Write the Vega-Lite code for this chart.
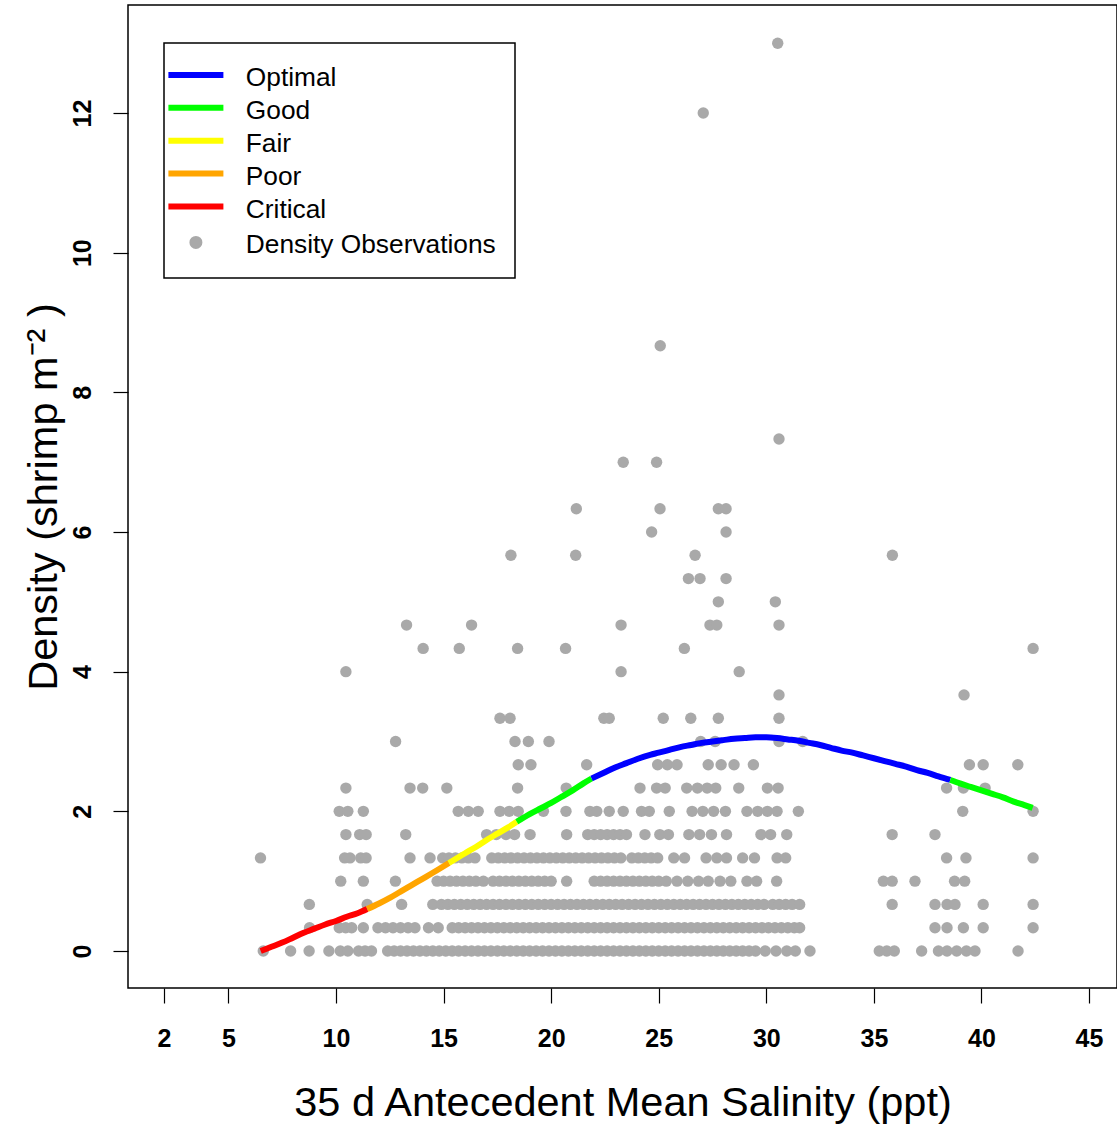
{
"$schema": "https://vega.github.io/schema/vega-lite/v6.json",
"width": 989,
"height": 983,
"autosize": {"type": "none"},
"padding": {"left": 128, "top": 5, "right": 0, "bottom": 136},
"config": {
  "font": "Liberation Sans",
  "view": {"stroke": "black", "strokeWidth": 1.5},
  "axis": {"grid": false, "domain": false, "tickColor": "black", "tickSize": 15, "tickWidth": 1.2, "labelColor": "black", "labelFont": "Liberation Sans", "labelFontWeight": "bold", "labelFontSize": 25, "labelPadding": 23, "titleColor": "black", "titleFont": "Liberation Sans", "titleFontWeight": "normal", "titleFontSize": 41.5, "labelFlush": false, "labelOverlap": false}
},
"layer": [
{
"data": {"values": [
{"x":6.62,"y":0},{"x":7.89,"y":0},{"x":8.75,"y":0},{"x":9.67,"y":0},{"x":10.2,"y":0},{"x":10.55,"y":0},{"x":11.05,"y":0},{"x":11.35,"y":0},{"x":11.65,"y":0},
{"x":12.4,"y":0},{"x":12.7,"y":0},{"x":13.0,"y":0},{"x":13.3,"y":0},{"x":13.6,"y":0},{"x":13.9,"y":0},{"x":14.2,"y":0},{"x":14.5,"y":0},{"x":14.8,"y":0},{"x":15.1,"y":0},{"x":15.4,"y":0},{"x":15.7,"y":0},{"x":16.0,"y":0},{"x":16.3,"y":0},{"x":16.6,"y":0},{"x":16.9,"y":0},{"x":17.2,"y":0},{"x":17.5,"y":0},{"x":17.8,"y":0},{"x":18.1,"y":0},{"x":18.4,"y":0},{"x":18.7,"y":0},{"x":19.0,"y":0},{"x":19.3,"y":0},{"x":19.6,"y":0},{"x":19.9,"y":0},{"x":20.2,"y":0},{"x":20.5,"y":0},{"x":20.8,"y":0},{"x":21.1,"y":0},{"x":21.4,"y":0},{"x":21.7,"y":0},{"x":22.0,"y":0},{"x":22.3,"y":0},{"x":22.6,"y":0},{"x":22.9,"y":0},{"x":23.2,"y":0},{"x":23.5,"y":0},{"x":23.8,"y":0},{"x":24.1,"y":0},{"x":24.4,"y":0},{"x":24.7,"y":0},{"x":25.0,"y":0},{"x":25.3,"y":0},{"x":25.6,"y":0},{"x":25.9,"y":0},{"x":26.2,"y":0},{"x":26.5,"y":0},{"x":26.8,"y":0},{"x":27.1,"y":0},{"x":27.4,"y":0},{"x":27.7,"y":0},{"x":28.0,"y":0},{"x":28.3,"y":0},{"x":28.6,"y":0},{"x":28.9,"y":0},{"x":29.2,"y":0},{"x":29.5,"y":0},
{"x":29.95,"y":0},{"x":30.45,"y":0},{"x":30.95,"y":0},{"x":31.35,"y":0},{"x":32.03,"y":0},{"x":35.25,"y":0},{"x":35.6,"y":0},{"x":35.95,"y":0},{"x":37.22,"y":0},{"x":38.0,"y":0},{"x":38.4,"y":0},{"x":38.85,"y":0},{"x":39.3,"y":0},{"x":39.7,"y":0},{"x":41.7,"y":0},
{"x":8.77,"y":0.333},{"x":10.15,"y":0.333},{"x":10.45,"y":0.333},{"x":10.73,"y":0.333},{"x":11.27,"y":0.333},{"x":11.95,"y":0.333},{"x":12.3,"y":0.333},{"x":12.65,"y":0.333},{"x":13.0,"y":0.333},{"x":13.35,"y":0.333},{"x":13.67,"y":0.333},{"x":14.3,"y":0.333},{"x":14.75,"y":0.333},
{"x":15.4,"y":0.333},{"x":15.7,"y":0.333},{"x":16.0,"y":0.333},{"x":16.3,"y":0.333},{"x":16.6,"y":0.333},{"x":16.9,"y":0.333},{"x":17.2,"y":0.333},{"x":17.5,"y":0.333},{"x":17.8,"y":0.333},{"x":18.1,"y":0.333},{"x":18.4,"y":0.333},{"x":18.7,"y":0.333},{"x":19.0,"y":0.333},{"x":19.3,"y":0.333},{"x":19.6,"y":0.333},{"x":19.9,"y":0.333},{"x":20.2,"y":0.333},{"x":20.5,"y":0.333},{"x":20.8,"y":0.333},{"x":21.1,"y":0.333},{"x":21.4,"y":0.333},{"x":21.7,"y":0.333},{"x":22.0,"y":0.333},{"x":22.3,"y":0.333},{"x":22.6,"y":0.333},{"x":22.9,"y":0.333},{"x":23.2,"y":0.333},{"x":23.5,"y":0.333},{"x":23.8,"y":0.333},{"x":24.1,"y":0.333},{"x":24.4,"y":0.333},{"x":24.7,"y":0.333},{"x":25.0,"y":0.333},{"x":25.3,"y":0.333},{"x":25.6,"y":0.333},{"x":25.9,"y":0.333},{"x":26.2,"y":0.333},{"x":26.5,"y":0.333},{"x":26.8,"y":0.333},{"x":27.1,"y":0.333},{"x":27.4,"y":0.333},{"x":27.7,"y":0.333},{"x":28.0,"y":0.333},{"x":28.3,"y":0.333},{"x":28.6,"y":0.333},{"x":28.9,"y":0.333},{"x":29.2,"y":0.333},{"x":29.5,"y":0.333},{"x":29.8,"y":0.333},{"x":30.1,"y":0.333},{"x":30.4,"y":0.333},{"x":30.7,"y":0.333},{"x":31.0,"y":0.333},{"x":31.3,"y":0.333},{"x":31.55,"y":0.333},
{"x":37.84,"y":0.333},{"x":38.4,"y":0.333},{"x":39.16,"y":0.333},{"x":40.08,"y":0.333},{"x":42.4,"y":0.333},
{"x":8.76,"y":0.667},{"x":11.45,"y":0.667},{"x":13.05,"y":0.667},{"x":14.5,"y":0.667},
{"x":14.9,"y":0.667},{"x":15.2,"y":0.667},{"x":15.5,"y":0.667},{"x":15.8,"y":0.667},{"x":16.1,"y":0.667},{"x":16.4,"y":0.667},{"x":16.7,"y":0.667},{"x":17.0,"y":0.667},{"x":17.3,"y":0.667},{"x":17.6,"y":0.667},{"x":17.9,"y":0.667},{"x":18.2,"y":0.667},{"x":18.5,"y":0.667},{"x":18.8,"y":0.667},{"x":19.1,"y":0.667},{"x":19.4,"y":0.667},{"x":19.7,"y":0.667},{"x":20.0,"y":0.667},{"x":20.3,"y":0.667},{"x":20.6,"y":0.667},{"x":20.9,"y":0.667},{"x":21.2,"y":0.667},{"x":21.5,"y":0.667},{"x":21.8,"y":0.667},{"x":22.1,"y":0.667},{"x":22.4,"y":0.667},{"x":22.7,"y":0.667},{"x":23.0,"y":0.667},{"x":23.3,"y":0.667},{"x":23.6,"y":0.667},{"x":23.9,"y":0.667},{"x":24.2,"y":0.667},{"x":24.5,"y":0.667},{"x":24.8,"y":0.667},{"x":25.1,"y":0.667},{"x":25.4,"y":0.667},{"x":25.7,"y":0.667},{"x":26.0,"y":0.667},{"x":26.3,"y":0.667},{"x":26.6,"y":0.667},{"x":26.9,"y":0.667},{"x":27.2,"y":0.667},{"x":27.5,"y":0.667},{"x":27.8,"y":0.667},{"x":28.1,"y":0.667},{"x":28.4,"y":0.667},{"x":28.7,"y":0.667},{"x":29.0,"y":0.667},{"x":29.3,"y":0.667},{"x":29.6,"y":0.667},{"x":29.9,"y":0.667},
{"x":30.3,"y":0.667},{"x":30.6,"y":0.667},{"x":30.9,"y":0.667},{"x":31.2,"y":0.667},{"x":31.55,"y":0.667},{"x":35.85,"y":0.667},{"x":37.84,"y":0.667},{"x":38.4,"y":0.667},{"x":38.77,"y":0.667},{"x":40.08,"y":0.667},{"x":42.4,"y":0.667},
{"x":10.22,"y":1},{"x":11.27,"y":1},{"x":12.76,"y":1},{"x":14.7,"y":1},{"x":15.0,"y":1},{"x":15.3,"y":1},{"x":15.6,"y":1},{"x":15.9,"y":1},{"x":16.2,"y":1},{"x":16.5,"y":1},{"x":16.85,"y":1},
{"x":17.3,"y":1},{"x":17.6,"y":1},{"x":17.9,"y":1},{"x":18.2,"y":1},{"x":18.5,"y":1},{"x":18.8,"y":1},{"x":19.1,"y":1},{"x":19.4,"y":1},{"x":19.7,"y":1},{"x":20.0,"y":1},{"x":20.72,"y":1},
{"x":22.0,"y":1},{"x":22.3,"y":1},{"x":22.6,"y":1},{"x":22.9,"y":1},{"x":23.2,"y":1},{"x":23.5,"y":1},{"x":23.8,"y":1},{"x":24.1,"y":1},{"x":24.4,"y":1},{"x":24.7,"y":1},{"x":25.0,"y":1},{"x":25.35,"y":1},
{"x":25.85,"y":1},{"x":26.35,"y":1},{"x":26.85,"y":1},{"x":27.3,"y":1},{"x":27.85,"y":1},{"x":28.35,"y":1},{"x":29.1,"y":1},{"x":29.55,"y":1},{"x":30.48,"y":1},{"x":35.44,"y":1},{"x":35.85,"y":1},{"x":36.91,"y":1},{"x":38.75,"y":1},{"x":39.22,"y":1},
{"x":6.49,"y":1.333},{"x":10.4,"y":1.333},{"x":10.65,"y":1.333},{"x":11.15,"y":1.333},{"x":11.4,"y":1.333},{"x":13.44,"y":1.333},{"x":14.37,"y":1.333},
{"x":14.96,"y":1.333},{"x":15.25,"y":1.333},{"x":15.55,"y":1.333},{"x":15.85,"y":1.333},{"x":16.15,"y":1.333},{"x":16.46,"y":1.333},
{"x":17.24,"y":1.333},{"x":17.54,"y":1.333},{"x":17.84,"y":1.333},{"x":18.14,"y":1.333},{"x":18.44,"y":1.333},{"x":18.74,"y":1.333},{"x":19.04,"y":1.333},{"x":19.34,"y":1.333},{"x":19.64,"y":1.333},{"x":19.94,"y":1.333},{"x":20.24,"y":1.333},{"x":20.54,"y":1.333},{"x":20.84,"y":1.333},{"x":21.14,"y":1.333},{"x":21.44,"y":1.333},{"x":21.74,"y":1.333},{"x":22.04,"y":1.333},{"x":22.34,"y":1.333},{"x":22.64,"y":1.333},{"x":22.94,"y":1.333},{"x":23.24,"y":1.333},
{"x":23.75,"y":1.333},{"x":24.05,"y":1.333},{"x":24.35,"y":1.333},{"x":24.65,"y":1.333},{"x":24.95,"y":1.333},{"x":25.7,"y":1.333},{"x":26.2,"y":1.333},{"x":27.2,"y":1.333},{"x":27.7,"y":1.333},{"x":28.15,"y":1.333},{"x":28.9,"y":1.333},{"x":29.45,"y":1.333},{"x":30.5,"y":1.333},{"x":30.9,"y":1.333},{"x":38.38,"y":1.333},{"x":39.28,"y":1.333},{"x":42.4,"y":1.333},
{"x":10.46,"y":1.667},{"x":11.1,"y":1.667},{"x":11.4,"y":1.667},{"x":13.24,"y":1.667},{"x":17.0,"y":1.667},{"x":17.45,"y":1.667},{"x":17.9,"y":1.667},{"x":18.3,"y":1.667},{"x":19.02,"y":1.667},{"x":20.72,"y":1.667},
{"x":21.7,"y":1.667},{"x":22.0,"y":1.667},{"x":22.3,"y":1.667},{"x":22.6,"y":1.667},{"x":22.9,"y":1.667},{"x":23.2,"y":1.667},{"x":23.5,"y":1.667},{"x":24.36,"y":1.667},{"x":25.05,"y":1.667},{"x":25.45,"y":1.667},{"x":26.4,"y":1.667},{"x":26.9,"y":1.667},{"x":27.45,"y":1.667},{"x":28.15,"y":1.667},{"x":29.75,"y":1.667},{"x":30.2,"y":1.667},{"x":30.95,"y":1.667},{"x":35.85,"y":1.667},{"x":37.84,"y":1.667},
{"x":10.15,"y":2},{"x":10.55,"y":2},{"x":11.27,"y":2},{"x":15.68,"y":2},{"x":16.15,"y":2},{"x":16.61,"y":2},{"x":17.62,"y":2},{"x":18.05,"y":2},{"x":18.47,"y":2},{"x":19.64,"y":2},{"x":20.69,"y":2},{"x":21.8,"y":2},{"x":22.12,"y":2},{"x":22.7,"y":2},{"x":23.35,"y":2},{"x":24.2,"y":2},{"x":24.56,"y":2},{"x":25.49,"y":2},{"x":26.55,"y":2},{"x":27.05,"y":2},{"x":27.55,"y":2},{"x":28.1,"y":2},{"x":29.1,"y":2},{"x":29.6,"y":2},{"x":30.05,"y":2},{"x":30.5,"y":2},{"x":31.49,"y":2},{"x":39.13,"y":2},{"x":42.4,"y":2},
{"x":10.46,"y":2.333},{"x":13.44,"y":2.333},{"x":14.03,"y":2.333},{"x":15.15,"y":2.333},{"x":18.44,"y":2.333},{"x":20.7,"y":2.333},{"x":24.13,"y":2.333},{"x":24.9,"y":2.333},{"x":25.3,"y":2.333},{"x":26.3,"y":2.333},{"x":26.8,"y":2.333},{"x":27.25,"y":2.333},{"x":27.65,"y":2.333},{"x":28.72,"y":2.333},{"x":30.05,"y":2.333},{"x":30.55,"y":2.333},{"x":38.38,"y":2.333},{"x":39.16,"y":2.333},{"x":40.17,"y":2.333},
{"x":18.47,"y":2.667},{"x":19.06,"y":2.667},{"x":21.65,"y":2.667},{"x":24.95,"y":2.667},{"x":25.4,"y":2.667},{"x":25.85,"y":2.667},{"x":27.3,"y":2.667},{"x":27.9,"y":2.667},{"x":28.5,"y":2.667},{"x":29.4,"y":2.667},{"x":39.44,"y":2.667},{"x":40.08,"y":2.667},{"x":41.69,"y":2.667},
{"x":12.77,"y":3},{"x":18.32,"y":3},{"x":18.94,"y":3},{"x":19.9,"y":3},{"x":26.95,"y":3},{"x":27.62,"y":3},{"x":30.59,"y":3},{"x":31.69,"y":3},
{"x":17.62,"y":3.333},{"x":18.09,"y":3.333},{"x":22.45,"y":3.333},{"x":22.7,"y":3.333},{"x":25.21,"y":3.333},{"x":26.49,"y":3.333},{"x":27.77,"y":3.333},{"x":30.59,"y":3.333},
{"x":30.59,"y":3.667},{"x":39.19,"y":3.667},
{"x":10.46,"y":4},{"x":23.25,"y":4},{"x":28.74,"y":4},
{"x":14.05,"y":4.333},{"x":15.73,"y":4.333},{"x":18.44,"y":4.333},{"x":20.67,"y":4.333},{"x":26.19,"y":4.333},{"x":42.4,"y":4.333},
{"x":13.28,"y":4.667},{"x":16.3,"y":4.667},{"x":23.25,"y":4.667},{"x":27.38,"y":4.667},{"x":27.7,"y":4.667},{"x":30.59,"y":4.667},
{"x":27.77,"y":5},{"x":30.42,"y":5},
{"x":26.38,"y":5.333},{"x":26.92,"y":5.333},{"x":28.13,"y":5.333},
{"x":18.13,"y":5.667},{"x":21.14,"y":5.667},{"x":26.69,"y":5.667},{"x":35.86,"y":5.667},
{"x":24.67,"y":6},{"x":28.13,"y":6},
{"x":21.17,"y":6.333},{"x":25.06,"y":6.333},{"x":27.77,"y":6.333},{"x":28.13,"y":6.333},
{"x":23.35,"y":7},{"x":24.9,"y":7},
{"x":30.59,"y":7.333},
{"x":25.07,"y":8.667},
{"x":27.07,"y":12},
{"x":30.53,"y":13}
]},
"mark": {"type": "circle", "size": 130, "opacity": 1},
"encoding": {
  "x": {"field": "x", "type": "quantitative", "scale": {"domain": [0.332, 46.3], "nice": false, "zero": false},
        "axis": {"values": [2,5,10,15,20,25,30,35,40,45], "format": "d", "title": "35 d Antecedent Mean Salinity (ppt)", "titleX": 494.5, "titleY": 127, "titleBaseline": "alphabetic", "titleAlign": "center", "labelBaseline": "top"}},
  "y": {"field": "y", "type": "quantitative", "scale": {"domain": [-0.53, 13.547], "nice": false, "zero": false},
        "axis": {"values": [0,2,4,6,8,10,12], "format": "d", "title": "Density (shrimp m⁻² )", "labelAngle": -90, "labelAlign": "center", "labelBaseline": "alphabetic", "titleAngle": -90, "titleX": -72, "titleY": 491.5, "titleAlign": "center", "titleBaseline": "alphabetic"}},
  "color": {"datum": "Density Observations", "type": "nominal",
            "scale": {"domain": ["Optimal","Good","Fair","Poor","Critical","Density Observations"], "range": ["#0000FF","#00FF00","#FFFF00","#FFA500","#FF0000","#A9A9A9"]}}
}
},
{
"data": {"values": [
{"x":6.5,"y":0,"zone":"Critical","seg":"c"},{"x":7,"y":0.06,"zone":"Critical","seg":"c"},{"x":7.5,"y":0.12,"zone":"Critical","seg":"c"},{"x":8,"y":0.19,"zone":"Critical","seg":"c"},{"x":8.5,"y":0.26,"zone":"Critical","seg":"c"},{"x":9,"y":0.32,"zone":"Critical","seg":"c"},{"x":9.5,"y":0.38,"zone":"Critical","seg":"c"},{"x":10,"y":0.43,"zone":"Critical","seg":"c"},{"x":10.5,"y":0.49,"zone":"Critical","seg":"c"},{"x":11,"y":0.54,"zone":"Critical","seg":"c"},{"x":11.45,"y":0.6,"zone":"Critical","seg":"c"},
{"x":11.45,"y":0.6,"zone":"Poor","seg":"p"},{"x":12,"y":0.68,"zone":"Poor","seg":"p"},{"x":12.5,"y":0.76,"zone":"Poor","seg":"p"},{"x":13,"y":0.85,"zone":"Poor","seg":"p"},{"x":13.5,"y":0.94,"zone":"Poor","seg":"p"},{"x":14,"y":1.03,"zone":"Poor","seg":"p"},{"x":14.5,"y":1.12,"zone":"Poor","seg":"p"},{"x":15.25,"y":1.26,"zone":"Poor","seg":"p"},
{"x":15.25,"y":1.26,"zone":"Fair","seg":"f"},{"x":16,"y":1.4,"zone":"Fair","seg":"f"},{"x":16.5,"y":1.49,"zone":"Fair","seg":"f"},{"x":17,"y":1.59,"zone":"Fair","seg":"f"},{"x":17.5,"y":1.68,"zone":"Fair","seg":"f"},{"x":18,"y":1.77,"zone":"Fair","seg":"f"},{"x":18.4,"y":1.85,"zone":"Fair","seg":"f"},
{"x":18.4,"y":1.85,"zone":"Good","seg":"g1"},{"x":19,"y":1.96,"zone":"Good","seg":"g1"},{"x":19.5,"y":2.04,"zone":"Good","seg":"g1"},{"x":20,"y":2.12,"zone":"Good","seg":"g1"},{"x":20.5,"y":2.21,"zone":"Good","seg":"g1"},{"x":21,"y":2.3,"zone":"Good","seg":"g1"},{"x":21.5,"y":2.4,"zone":"Good","seg":"g1"},{"x":21.88,"y":2.47,"zone":"Good","seg":"g1"},
{"x":21.88,"y":2.47,"zone":"Optimal","seg":"o"},{"x":22.5,"y":2.56,"zone":"Optimal","seg":"o"},{"x":23,"y":2.63,"zone":"Optimal","seg":"o"},{"x":23.5,"y":2.69,"zone":"Optimal","seg":"o"},{"x":24,"y":2.75,"zone":"Optimal","seg":"o"},{"x":24.6,"y":2.81,"zone":"Optimal","seg":"o"},{"x":25,"y":2.84,"zone":"Optimal","seg":"o"},{"x":25.5,"y":2.88,"zone":"Optimal","seg":"o"},{"x":26,"y":2.92,"zone":"Optimal","seg":"o"},{"x":26.5,"y":2.95,"zone":"Optimal","seg":"o"},{"x":27,"y":2.98,"zone":"Optimal","seg":"o"},{"x":27.5,"y":3.0,"zone":"Optimal","seg":"o"},{"x":28,"y":3.02,"zone":"Optimal","seg":"o"},{"x":28.5,"y":3.04,"zone":"Optimal","seg":"o"},{"x":29,"y":3.05,"zone":"Optimal","seg":"o"},{"x":29.5,"y":3.06,"zone":"Optimal","seg":"o"},{"x":30,"y":3.06,"zone":"Optimal","seg":"o"},{"x":30.5,"y":3.05,"zone":"Optimal","seg":"o"},{"x":31,"y":3.03,"zone":"Optimal","seg":"o"},{"x":31.5,"y":3.01,"zone":"Optimal","seg":"o"},{"x":32,"y":2.98,"zone":"Optimal","seg":"o"},{"x":32.5,"y":2.95,"zone":"Optimal","seg":"o"},{"x":33,"y":2.91,"zone":"Optimal","seg":"o"},{"x":33.5,"y":2.87,"zone":"Optimal","seg":"o"},{"x":34,"y":2.84,"zone":"Optimal","seg":"o"},{"x":34.5,"y":2.8,"zone":"Optimal","seg":"o"},{"x":35,"y":2.76,"zone":"Optimal","seg":"o"},{"x":35.5,"y":2.72,"zone":"Optimal","seg":"o"},{"x":36,"y":2.68,"zone":"Optimal","seg":"o"},{"x":36.5,"y":2.64,"zone":"Optimal","seg":"o"},{"x":37,"y":2.59,"zone":"Optimal","seg":"o"},{"x":37.5,"y":2.55,"zone":"Optimal","seg":"o"},{"x":38,"y":2.5,"zone":"Optimal","seg":"o"},{"x":38.55,"y":2.45,"zone":"Optimal","seg":"o"},
{"x":38.55,"y":2.45,"zone":"Good","seg":"g2"},{"x":39,"y":2.4,"zone":"Good","seg":"g2"},{"x":39.5,"y":2.35,"zone":"Good","seg":"g2"},{"x":40,"y":2.3,"zone":"Good","seg":"g2"},{"x":40.5,"y":2.25,"zone":"Good","seg":"g2"},{"x":41,"y":2.2,"zone":"Good","seg":"g2"},{"x":41.5,"y":2.14,"zone":"Good","seg":"g2"},{"x":42,"y":2.09,"zone":"Good","seg":"g2"},{"x":42.38,"y":2.05,"zone":"Good","seg":"g2"}
]},
"mark": {"type": "line", "strokeWidth": 6, "interpolate": "monotone"},
"encoding": {
  "x": {"field": "x", "type": "quantitative"},
  "y": {"field": "y", "type": "quantitative"},
  "detail": {"field": "seg", "type": "nominal"},
  "color": {"field": "zone", "type": "nominal",
            "scale": {"domain": ["Optimal","Good","Fair","Poor","Critical","Density Observations"], "range": ["#0000FF","#00FF00","#FFFF00","#FFA500","#FF0000","#A9A9A9"]},
            "legend": {
              "title": null, "orient": "none", "legendX": 36, "legendY": 38, "direction": "vertical",
              "symbolType": "stroke", "symbolSize": 400, "symbolStrokeWidth": 6,
              "symbolOffset": 0, "labelOffset": 36.75,
              "labelFontSize": 26.3, "labelFont": "Liberation Sans", "labelColor": "black", "labelLimit": 500,
              "rowPadding": 2.9, "padding": 18.75,
              "strokeColor": "black", "fillColor": "white",
              "encode": {
                "symbols": {"update": {
                  "shape": {"signal": "datum.value === 'Density Observations' ? 'M-0.35,0A0.35,0.35 0 1,0 0.35,0A0.35,0.35 0 1,0 -0.35,0Z' : 'M-2.75,0H2.75'"},
                  "fill": {"scale": "color", "field": "value"},
                  "stroke": {"scale": "color", "field": "value"},
                  "opacity": {"value": 1}
                }},
                "labels": {"update": {"dy": {"value": 3}}},
                "legend": {"update": {"strokeWidth": {"value": 1.5}}}
              }
            }}
}
}
]
}
